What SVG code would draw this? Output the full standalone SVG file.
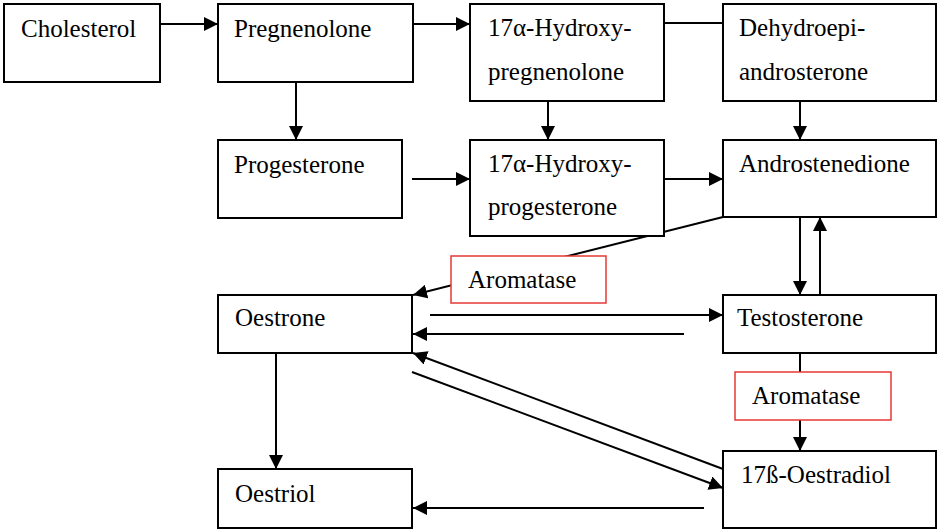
<svg xmlns="http://www.w3.org/2000/svg" width="937" height="529" viewBox="0 0 937 529">
<style>
.box{fill:#fff;stroke:#000;stroke-width:2}
.enz{fill:#fff;stroke:#e53935;stroke-width:1.5}
.c{stroke:#000;stroke-width:2;fill:none}
.a{marker-end:url(#ah)}
</style>
<defs>
<marker id="ah" markerUnits="userSpaceOnUse" markerWidth="14" markerHeight="14" refX="12" refY="6" orient="auto" viewBox="0 0 12 12">
<path d="M0,0 L12,6 L0,12 Z" fill="#000"/>
</marker>
</defs>
<g id="connectors">
<line class="c a" x1="160" y1="24" x2="218" y2="24"/>
<line class="c a" x1="413" y1="24" x2="470" y2="24"/>
<line class="c" x1="664" y1="23" x2="723" y2="23"/>
<line class="c a" x1="296" y1="82" x2="296" y2="140"/>
<line class="c a" x1="548" y1="101" x2="548" y2="140"/>
<line class="c a" x1="800" y1="101" x2="800" y2="140"/>
<line class="c a" x1="412" y1="179" x2="470" y2="179"/>
<line class="c a" x1="664" y1="179" x2="723" y2="179"/>
<line class="c a" x1="723" y1="217" x2="413" y2="295"/>
<line class="c a" x1="800" y1="217" x2="800" y2="295"/>
<line class="c a" x1="820" y1="295" x2="820" y2="217"/>
<line class="c a" x1="430" y1="315" x2="723" y2="315"/>
<line class="c a" x1="684" y1="334" x2="413" y2="334"/>
<line class="c a" x1="800" y1="353" x2="800" y2="451"/>
<line class="c a" x1="276" y1="353" x2="276" y2="469"/>
<line class="c a" x1="723" y1="469" x2="413" y2="353"/>
<line class="c a" x1="412" y1="372" x2="723" y2="488"/>
<line class="c a" x1="704" y1="508" x2="413" y2="508"/>
</g>
<g font-family="'Liberation Serif', 'Times New Roman', serif" font-size="25" fill="#000">
<g id="cholesterol"><rect class="box" x="4" y="4" width="156" height="78"/><text x="21" y="37">Cholesterol</text></g>
<g id="pregnenolone"><rect class="box" x="218" y="4" width="195" height="78"/><text x="234" y="37">Pregnenolone</text></g>
<g id="hydroxypregnenolone"><rect class="box" x="470" y="4" width="194" height="97"/><text x="488" y="36">17α-Hydroxy-</text><text x="488" y="80">pregnenolone</text></g>
<g id="dhea"><rect class="box" x="723" y="4" width="213" height="97"/><text x="739" y="36">Dehydroepi-</text><text x="739" y="80">androsterone</text></g>
<g id="progesterone"><rect class="box" x="218" y="140" width="184" height="78"/><text x="234" y="173">Progesterone</text></g>
<g id="hydroxyprogesterone"><rect class="box" x="470" y="140" width="194" height="96"/><text x="488" y="172">17α-Hydroxy-</text><text x="488" y="215">progesterone</text></g>
<g id="androstenedione"><rect class="box" x="723" y="140" width="213" height="77"/><text x="739" y="172">Androstenedione</text></g>
<g id="aromatase1"><rect class="enz" x="451" y="256" width="155" height="47"/><text x="468" y="288">Aromatase</text></g>
<g id="oestrone"><rect class="box" x="218" y="295" width="194" height="58"/><text x="235" y="326">Oestrone</text></g>
<g id="testosterone"><rect class="box" x="723" y="295" width="213" height="58"/><text x="737" y="326">Testosterone</text></g>
<g id="aromatase2"><rect class="enz" x="735" y="372" width="156" height="48"/><text x="752" y="404">Aromatase</text></g>
<g id="oestradiol"><rect class="box" x="723" y="451" width="213" height="77"/><text x="741" y="483">17ß-Oestradiol</text></g>
<g id="oestriol"><rect class="box" x="218" y="469" width="194" height="59"/><text x="235" y="502">Oestriol</text></g>
</g>
</svg>
